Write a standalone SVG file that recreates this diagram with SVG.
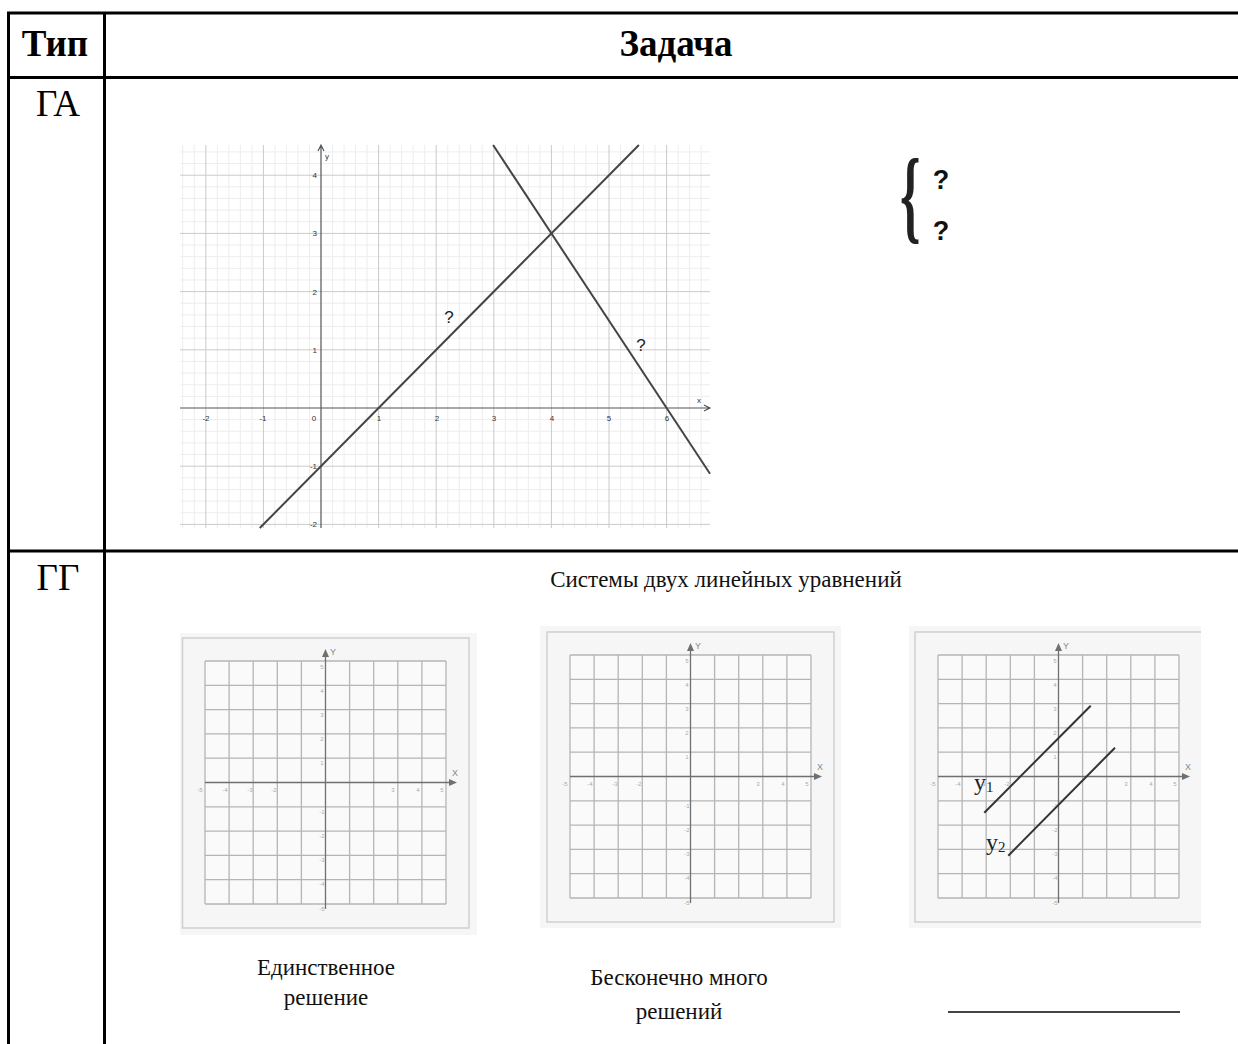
<svg xmlns="http://www.w3.org/2000/svg" width="1238" height="1044" viewBox="0 0 1238 1044">
<style>
.tbl{stroke:#000;stroke-width:3;fill:none}
.hdr{font-family:"Liberation Serif","Times New Roman",serif;font-weight:bold;font-size:37px;fill:#000}
.typ{font-family:"Liberation Serif","Times New Roman",serif;font-size:37px;fill:#000}
.cap{font-family:"Liberation Serif","Times New Roman",serif;font-size:23px;fill:#111}
.minor{stroke:#ededed;stroke-width:1;fill:none}
.major{stroke:#cacaca;stroke-width:1;fill:none}
.ax{stroke:#555;stroke-width:1.2;fill:none}
.fn{stroke:#444;stroke-width:2;fill:none}
.tick{font-family:"Liberation Sans",Arial,sans-serif;font-size:8px;fill:#333}
.q{font-family:"Liberation Sans",Arial,sans-serif;font-size:17px;fill:#222}
.qb{font-family:"Liberation Sans",Arial,sans-serif;font-size:27px;font-weight:bold;fill:#111}
.pbg{fill:#f6f6f6;stroke:none}
.pfr{fill:none;stroke:#cfcfcf;stroke-width:1.5}
.pg{stroke:#b5b5b5;stroke-width:1.3;fill:none}
.pax{stroke:#707070;stroke-width:1.3;fill:none}
.pt{font-family:"Liberation Sans",Arial,sans-serif;font-size:6px;fill:#aaa}
.pl{font-family:"Liberation Sans",Arial,sans-serif;font-size:9px;fill:#888}
.pline{stroke:#333;stroke-width:2;fill:none}
.yl{font-family:"Liberation Serif","Times New Roman",serif;font-size:24px;fill:#222}
</style>
<defs>
<g id="pgrid">
<rect x="0" y="0" width="241" height="243" fill="#fafafa" stroke="none"/>
<path class="pg" d="M0 0V243M24.1 0V243M48.2 0V243M72.3 0V243M96.4 0V243M144.6 0V243M168.7 0V243M192.8 0V243M216.9 0V243M241 0V243M0 0H241M0 24.3H241M0 48.6H241M0 72.9H241M0 97.2H241M0 145.8H241M0 170.1H241M0 194.4H241M0 218.7H241M0 243H241"/>
<path class="pax" d="M120.5 -7V248M0 121.5H246"/>
<polygon points="117,-4 120.5,-12 124,-4" fill="#707070"/>
<polygon points="244,118 252,121.5 244,125" fill="#707070"/>
<text class="pl" x="125" y="-6">Y</text>
<text class="pl" x="247" y="115">X</text>
<g class="pt" text-anchor="middle">
<text x="-5" y="131">-5</text><text x="20" y="131">-4</text><text x="45" y="131">-3</text><text x="69" y="131">-2</text>
<text x="188" y="131">3</text><text x="213" y="131">4</text><text x="237" y="131">5</text>
<text x="117" y="8">5</text><text x="117" y="32">4</text><text x="117" y="56">3</text><text x="117" y="80">2</text><text x="117" y="104">1</text>
<text x="117" y="153">-1</text><text x="117" y="177">-2</text><text x="117" y="201">-3</text><text x="117" y="225">-4</text><text x="117" y="250">-5</text>
</g>
</g>
</defs>

<rect x="0" y="0" width="1238" height="1044" fill="#fff"/>

<g id="table">
<path class="tbl" d="M7 13H1238M7 77.5H1238M7 551H1238M8.5 11.5V1044M104.5 13V1044"/>
<text class="hdr" x="55" y="56" text-anchor="middle">Тип</text>
<text class="hdr" x="676" y="56" text-anchor="middle">Задача</text>
<text class="typ" x="58" y="116" text-anchor="middle">ГА</text>
<text class="typ" x="58" y="590" text-anchor="middle">ГГ</text>
</g>

<g id="ga-graph">
<path class="minor" d="M182.76 145V528M194.28 145V528M217.32 145V528M228.84 145V528M240.36 145V528M251.88 145V528M274.92 145V528M286.44 145V528M297.96 145V528M309.48 145V528M332.52 145V528M344.04 145V528M355.56 145V528M367.08 145V528M390.12 145V528M401.64 145V528M413.16 145V528M424.68 145V528M447.72 145V528M459.24 145V528M470.76 145V528M482.28 145V528M505.32 145V528M516.84 145V528M528.36 145V528M539.88 145V528M562.92 145V528M574.44 145V528M585.96 145V528M597.48 145V528M620.52 145V528M632.04 145V528M643.56 145V528M655.08 145V528M678.12 145V528M689.64 145V528M701.16 145V528"/>
<path class="minor" d="M180 151.92H710M180 163.56H710M180 186.84H710M180 198.48H710M180 210.12H710M180 221.76H710M180 245.04H710M180 256.68H710M180 268.32H710M180 279.96H710M180 303.24H710M180 314.88H710M180 326.52H710M180 338.16H710M180 361.44H710M180 373.08H710M180 384.72H710M180 396.36H710M180 419.64H710M180 431.28H710M180 442.92H710M180 454.56H710M180 477.84H710M180 489.48H710M180 501.12H710M180 512.76H710"/>
<path class="major" d="M205.8 145V528M263.4 145V528M378.6 145V528M436.2 145V528M493.8 145V528M551.4 145V528M609 145V528M666.6 145V528M180 175.2H710M180 233.4H710M180 291.6H710M180 349.8H710M180 466.2H710M180 524.4H710"/>
<path class="ax" d="M321 528V146M318 151L321 145L324 151M180 408H709M704 405L710 408L704 411"/>
<text class="tick" x="325" y="159">y</text>
<text class="tick" x="697" y="403">x</text>
<g class="tick" text-anchor="middle">
<text x="206" y="421">-2</text><text x="263" y="421">-1</text><text x="314" y="421">0</text><text x="379" y="421">1</text><text x="437" y="421">2</text><text x="494" y="421">3</text><text x="552" y="421">4</text><text x="609" y="421">5</text><text x="667" y="421">6</text>
</g>
<g class="tick" text-anchor="end">
<text x="317" y="178">4</text><text x="317" y="236">3</text><text x="317" y="295">2</text><text x="317" y="353">1</text><text x="317" y="469">-1</text><text x="317" y="527">-2</text>
</g>
<path class="fn" d="M259.8 528L638.9 145"/>
<path class="fn" d="M493.1 145L710 473.8"/>
<text class="q" x="449" y="323" text-anchor="middle">?</text>
<text class="q" x="641" y="351" text-anchor="middle">?</text>
</g>

<g id="ga-system">
<text x="0" y="0" transform="translate(900,230) scale(0.5,1)" style="font-family:'Liberation Serif',serif;font-size:104px;font-weight:bold;fill:#222">{</text>
<text class="qb" x="941" y="189" text-anchor="middle">?</text>
<text class="qb" x="941" y="240" text-anchor="middle">?</text>
</g>

<g id="gg-title">
<text class="cap" x="726" y="587" text-anchor="middle">Системы двух линейных уравнений</text>
</g>

<g id="panel-unique">
<rect class="pbg" x="180" y="633" width="297" height="302"/>
<rect class="pfr" x="182.5" y="638" width="286.5" height="290"/>
<use href="#pgrid" transform="translate(205,661)"/>
<text class="cap" x="326" y="975" text-anchor="middle">Единственное</text>
<text class="cap" x="326" y="1005" text-anchor="middle">решение</text>
</g>

<g id="panel-infinite">
<rect class="pbg" x="540" y="626" width="301" height="302"/>
<rect class="pfr" x="547" y="632" width="287" height="290"/>
<use href="#pgrid" transform="translate(570,655)"/>
<text class="cap" x="679" y="985" text-anchor="middle">Бесконечно много</text>
<text class="cap" x="679" y="1019" text-anchor="middle">решений</text>
</g>

<g id="panel-parallel">
<rect class="pbg" x="909" y="626" width="292" height="302"/>
<path class="pfr" d="M1201 632H915V922H1201"/>
<use href="#pgrid" transform="translate(938,655)"/>
<path class="pline" d="M984.3 812.7L1090.7 705.7"/>
<path class="pline" d="M1008.3 855.7L1115 747.7"/>
<text class="yl" x="974" y="790">y<tspan font-size="15" dy="2">1</tspan></text>
<text class="yl" x="986" y="850">y<tspan font-size="15" dy="2">2</tspan></text>
<path d="M948 1012H1180" stroke="#444" stroke-width="2"/>
</g>
</svg>
